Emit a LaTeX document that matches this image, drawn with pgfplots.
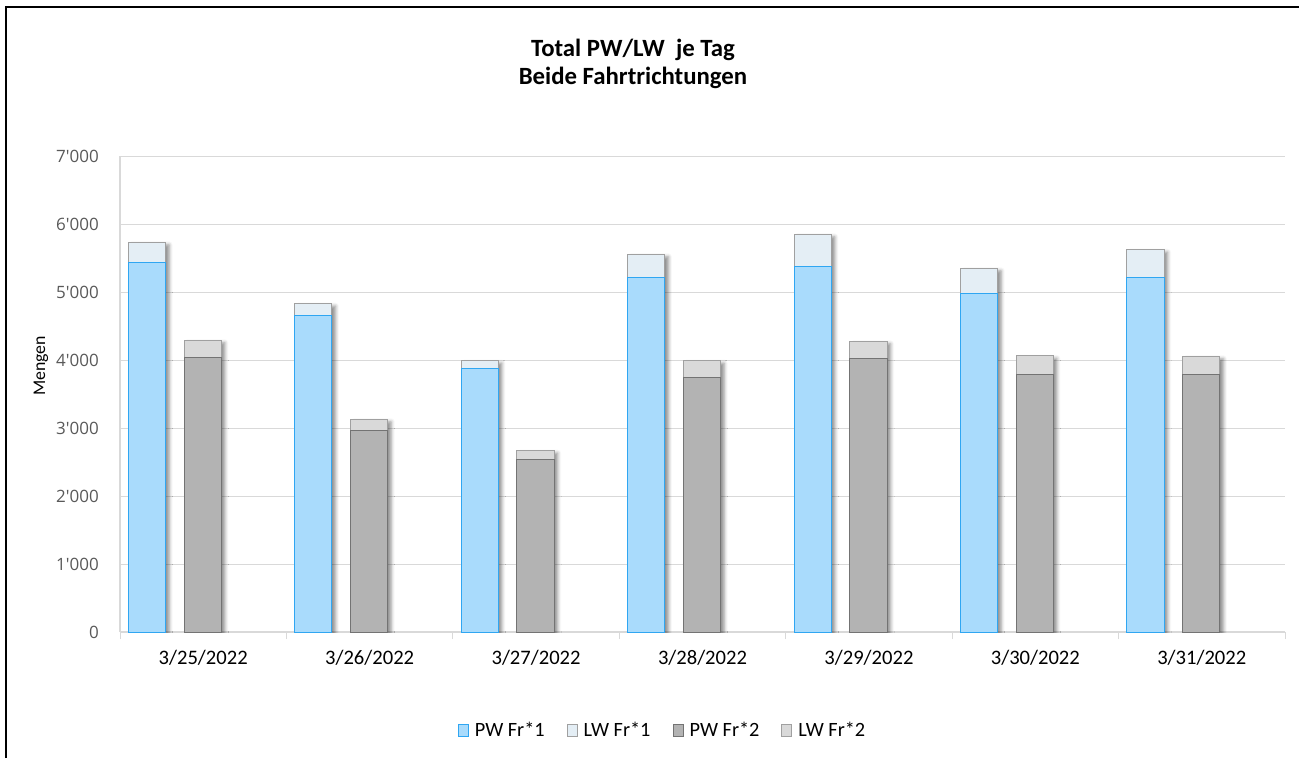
\documentclass[border=0pt]{standalone}
\usepackage{fontspec}
\setmainfont{Carlito}
\newfontfamily\tickfont{Open Sans}
\usepackage{pgfplots}
\usepackage{pgfplotstable}
\pgfplotsset{compat=1.18}
\usetikzlibrary{shadows.blur}

\definecolor{pwa}{HTML}{A9DBFC}
\definecolor{pwaedge}{HTML}{2FA6F2}
\definecolor{lwa}{HTML}{E4EEF5}
\definecolor{pwb}{HTML}{B3B3B3}
\definecolor{pwbedge}{HTML}{737373}
\definecolor{lwb}{HTML}{D9D9D9}
\definecolor{lwedge}{HTML}{A0A0A0}
\definecolor{gridc}{HTML}{D9D9D9}
\definecolor{ticktext}{HTML}{595959}

% Tag, PW/LW Fahrtrichtung 1, PW/LW Fahrtrichtung 2
\pgfplotstableread{
x pwa  lwa pwb  lwb
0 5441 290 4044 246
1 4651 177 2956 172
2 3868 122 2544 122
3 5210 344 3750 240
4 5368 480 4015 260
5 4980 368 3790 269
6 5206 416 3784 270
}\daten

\begin{document}
\begin{tikzpicture}[x=1pt,y=1pt]
\useasboundingbox (0,0) rectangle (1299,758);
\draw[line width=1.3pt] (6,0) -- (6,751) -- (1300,751);

\node[anchor=base, font=\fontsize{24.8}{28}\selectfont\bfseries] at (633,701) {Total PW/LW\ \ je Tag};
\node[anchor=base, font=\fontsize{24.8}{28}\selectfont\bfseries] at (633,673) {Beide Fahrtrichtungen};
\node[rotate=90, font=\fontsize{17.8}{20}\selectfont] at (41,392) {Mengen};

\begin{axis}[
at={(120pt,126pt)}, anchor=south west,
scale only axis,
width=1165pt,
height=476pt,
xmin=-0.5, xmax=6.5,
ymin=0, ymax=7000,
axis x line*=bottom,
axis y line*=left,
axis line style={-, draw=gridc, line width=1.3pt},
xtick={0,...,6},
xticklabels={3/25/2022,3/26/2022,3/27/2022,3/28/2022,3/29/2022,3/30/2022,3/31/2022},
minor xtick={-0.5,0.5,...,6.5},
tick align=outside,
major tick length=0pt,
minor tick length=7pt,
minor x tick style={draw=gridc, line width=1pt},
major tick style={draw=none},
xticklabel style={font=\fontsize{20.6}{24}\selectfont, inner sep=0pt, yshift=-18pt},
ytick={0,1000,...,7000},
scaled y ticks=false,
yticklabel style={font=\fontsize{17}{20}\tickfont, text=ticktext, inner sep=0pt, xshift=-21pt,
  /pgf/number format/1000 sep={\textquotesingle}, /pgf/number format/assume math mode=true},
ymajorgrids,
grid style={draw=gridc, line width=1pt},
legend image code/.code={\draw[#1] (0pt,-6pt) rectangle (10pt,6pt);},
legend style={at={(0.4657,-0.2059)}, anchor=center, draw=none, fill=none,
  legend columns=4, font=\fontsize{20.3}{24}\selectfont,
  /tikz/every odd column/.append style={column sep=4pt},
  /tikz/every even column/.append style={column sep=20pt}},
]

\addplot[ybar, bar width=0.2235, bar shift=-0.338, fill=lwa, draw=lwedge, line width=1pt,
  blur shadow={shadow xshift=3.5pt, shadow yshift=-2.5pt, shadow blur radius=3.5pt, shadow opacity=45}, forget plot]
  table[x=x, y expr=\thisrow{pwa}+\thisrow{lwa}] {\daten};
\addplot[ybar, bar width=0.2235, bar shift=-0.338, fill=pwa, draw=pwaedge, line width=1pt, forget plot]
  table[x=x, y=pwa] {\daten};
\addplot[ybar, bar width=0.2235, bar shift=-0.003, fill=lwb, draw=lwedge, line width=1pt,
  blur shadow={shadow xshift=3.5pt, shadow yshift=-2.5pt, shadow blur radius=3.5pt, shadow opacity=45}, forget plot]
  table[x=x, y expr=\thisrow{pwb}+\thisrow{lwb}] {\daten};
\addplot[ybar, bar width=0.2235, bar shift=-0.003, fill=pwb, draw=pwbedge, line width=1pt, forget plot]
  table[x=x, y=pwb] {\daten};

\addlegendimage{fill=pwa, draw=pwaedge, line width=1pt}
\addlegendentry{PW Fr*1}
\addlegendimage{fill=lwa, draw=lwedge, line width=1pt}
\addlegendentry{LW Fr*1}
\addlegendimage{fill=pwb, draw=pwbedge, line width=1pt}
\addlegendentry{PW Fr*2}
\addlegendimage{fill=lwb, draw=lwedge, line width=1pt}
\addlegendentry{LW Fr*2}
\end{axis}
\end{tikzpicture}
\end{document}
